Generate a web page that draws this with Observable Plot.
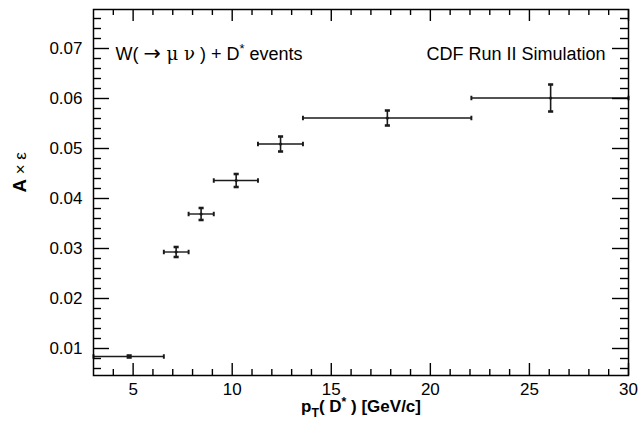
<!DOCTYPE html>
<html><head><meta charset="utf-8">
<script src="https://cdn.jsdelivr.net/npm/d3@7"></script>
<script src="https://cdn.jsdelivr.net/npm/@observablehq/plot@0.6"></script>
<style>
body{margin:0;background:#fff;}
</style>
</head><body><div id="chart"></div>
<script>
// pT(D*) bins [GeV/c]
const ptCenter = [4.8, 7.17, 8.43, 10.2, 12.44, 17.83, 26.07];
const ptLow    = [3.0, 6.55, 7.8, 9.07, 11.3, 13.57, 22.07];
const ptHigh   = [6.55, 7.8, 9.07, 11.3, 13.57, 22.07, 30.0];
// A x eps values and errors
const accEff = [0.0084, 0.0293, 0.0369, 0.0436, 0.0509, 0.0561, 0.0601];
const accErr = [0.0002, 0.0010, 0.0012, 0.0013, 0.0015, 0.0015, 0.0027];
// tick marks
const xMajor = [5, 10, 15, 20, 25, 30];
const xMinor = [4, 6, 7, 8, 9, 11, 12, 13, 14, 16, 17, 18, 19, 21, 22, 23, 24, 26, 27, 28, 29];
const yMajor = [0.01, 0.02, 0.03, 0.04, 0.05, 0.06, 0.07];
const yMinor = [0.006, 0.008, 0.012, 0.014, 0.016, 0.018, 0.022, 0.024, 0.026, 0.028, 0.032, 0.034, 0.036, 0.038, 0.042, 0.044, 0.046, 0.048, 0.052, 0.054, 0.056, 0.058, 0.062, 0.064, 0.066, 0.068, 0.072, 0.074, 0.076];
// tick labels
const xTickLabels = [5, 10, 15, 20, 25, 30];
const yTickLabels = [0.01, 0.02, 0.03, 0.04, 0.05, 0.06, 0.07];
const annotLeft = "W( → μ ν ) + D* events";
const annotRight = "CDF Run II Simulation";
const xLabel = "pT( D* ) [GeV/c]";
const yLabel = "A × ε";

const rows = ptCenter.map((x, i) => ({x, lo: ptLow[i], hi: ptHigh[i], y: accEff[i], e: accErr[i]}));
const ink = "#1a1a1a";

const W = 640, H = 425, mL = 93, mR = 12, mT = 9, mB = 50;
const fw = W - mL - mR, fh = H - mT - mB; // frame size in px
const tks = {stroke: "#000", strokeWidth: 1.4};

const chart = Plot.plot({
  width: W, height: H,
  marginLeft: mL, marginRight: mR, marginTop: mT, marginBottom: mB,
  style: {fontFamily: "Liberation Sans, Arial, sans-serif", background: "#fff", color: "#000"},
  x: {domain: [3, 30], label: null},
  y: {domain: [0.0046, 0.0778], label: null},
  marks: [
    // tick labels
    Plot.axisX(xTickLabels, {anchor: "bottom", tickSize: 0, tickPadding: 7, fontSize: 17, label: null, fill: "#000"}),
    Plot.axisY(yTickLabels, {anchor: "left", tickSize: 0, tickPadding: 11, fontSize: 17, label: null, tickFormat: d3.format(".2f"), fill: "#000"}),
    // error bars
    Plot.link(rows, {x1: "lo", x2: "hi", y1: "y", y2: "y", stroke: ink, strokeWidth: 1.4, marker: "tick"}),
    Plot.link(rows, {x1: "x", x2: "x", y1: d => d.y - d.e, y2: d => d.y + d.e, stroke: ink, strokeWidth: 1.6, marker: "tick"}),
    Plot.dot(rows, {x: "x", y: "y", r: 1.6, fill: ink}),
    // annotations
    Plot.text([annotLeft], {text: d => d, frameAnchor: "top-left", textAnchor: "start", dx: 22, dy: 38, fontSize: 18, fill: "#000"}),
    Plot.text([annotRight], {text: d => d, frameAnchor: "top-right", textAnchor: "end", dx: -23, dy: 38, fontSize: 18, fill: "#000"}),
    Plot.text([xLabel], {text: d => d, frameAnchor: "bottom", dy: 36.5, fontSize: 17, fontWeight: "bold", fill: "#000"}),
    Plot.text([yLabel], {text: d => d, frameAnchor: "left", rotate: -90, dx: -73, fontSize: 17, fill: "#000"}),
    Plot.frame({stroke: "#000", strokeWidth: 1.5}),
    // ticks inside the frame (ROOT style), drawn last so nothing covers them
    Plot.ruleX(xMajor, {x: d => d, insetTop: fh - 12, ...tks}),
    Plot.ruleX(xMinor, {x: d => d, insetTop: fh - 6, ...tks}),
    Plot.ruleX(xMajor, {x: d => d, insetBottom: fh - 12, ...tks}),
    Plot.ruleX(xMinor, {x: d => d, insetBottom: fh - 6, ...tks}),
    Plot.ruleY(yMajor, {y: d => d, insetRight: fw - 16, ...tks}),
    Plot.ruleY(yMinor, {y: d => d, insetRight: fw - 8, ...tks}),
    Plot.ruleY(yMajor, {y: d => d, insetLeft: fw - 16, ...tks}),
    Plot.ruleY(yMinor, {y: d => d, insetLeft: fw - 8, ...tks})
  ]
});
document.getElementById("chart").appendChild(chart);

// smaller error-bar end caps
d3.select(chart).selectAll("marker > path").attr("d", "M0,-1.6v3.2");

// rich text: superscripts / subscripts
function rich(str, parts) {
  const t = d3.select(chart).selectAll("text").filter(function() { return this.textContent === str; });
  if (t.empty()) return;
  t.text(null);
  let shift = 0;
  for (const p of parts) {
    const ts = t.append("tspan").text(p.s);
    const small = p.sup || p.sub;
    const target = p.sup ? -0.38 : p.sub ? 0.28 : 0;
    if (small) ts.attr("font-size", "72%");
    if (target !== shift) ts.attr("dy", `${((target - shift) / (small ? 0.72 : 1)).toFixed(3)}em`);
    if (p.bold) ts.attr("font-weight", "bold");
    if (p.font) ts.attr("font-family", p.font);
    if (p.size) ts.attr("font-size", p.size);
    shift = target;
  }
}
rich(annotLeft, [{s: "W( "}, {s: "→", font: "DejaVu Sans", size: "115%"}, {s: " μ ν", font: "DejaVu Serif"}, {s: " ) + D"}, {s: "*", sup: true}, {s: " events"}]);
rich(xLabel, [{s: "p"}, {s: "T", sub: true}, {s: "( D"}, {s: "*", sup: true}, {s: " ) [GeV/c]"}]);
rich(yLabel, [{s: "A", bold: true, size: "110%"}, {s: " × ε"}]);
</script>
</body></html>
